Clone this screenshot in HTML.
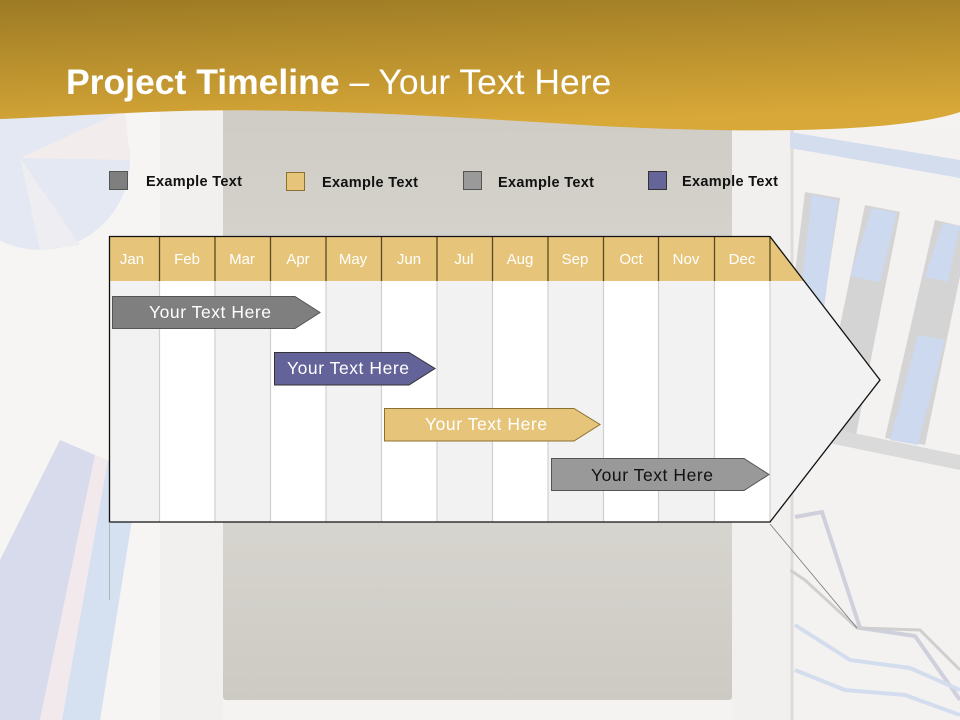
<!DOCTYPE html>
<html><head><meta charset="utf-8"><style>
html,body{margin:0;padding:0;width:960px;height:720px;overflow:hidden;background:#f3f2ef}
svg{display:block}
text{font-family:"Liberation Sans",sans-serif}
</style></head><body>
<svg width="960" height="720" viewBox="0 0 960 720" xmlns="http://www.w3.org/2000/svg">
<defs>
<linearGradient id="gold" x1="0" y1="0" x2="0.2" y2="1">
<stop offset="0" stop-color="#9c7a24"/><stop offset="1" stop-color="#d8a838"/></linearGradient>
<linearGradient id="panel" x1="0" y1="0" x2="0" y2="1">
<stop offset="0" stop-color="#cfccc5"/><stop offset="0.55" stop-color="#dcdad5"/><stop offset="1" stop-color="#cdcac3"/></linearGradient>
</defs>
<rect width="960" height="720" fill="#f4f3f1"/>
<!-- left decor -->
<rect x="0" y="110" width="160" height="610" fill="#f6f5f3"/>
<circle cx="40" cy="160" r="90" fill="#e3e8f2"/>
<path d="M20 158 L40 250 L80 245 Z" fill="#eeedf2"/>
<path d="M20 158 L130 160 L125 110 Z" fill="#f3ecec"/>
<path d="M0 560 L60 440 L95 455 L40 720 L0 720Z" fill="#d8dbeb"/>
<path d="M40 720 L95 455 L108 460 L62 720Z" fill="#f1e9ec"/>
<path d="M62 720 L108 460 L140 470 L100 720Z" fill="#d5e0f1"/>
<!-- right decor -->
<rect x="790" y="130" width="170" height="590" fill="#f3f2f0"/>
<line x1="792" y1="130" x2="792" y2="720" stroke="#dddcda" stroke-width="3"/>
<path d="M790 132 L960 160 L960 178 L790 148Z" fill="#d3ddee"/>
<path d="M805 192 L840 198 L800 460 L772 455Z" fill="#d4d4d4"/>
<path d="M812 195 L838 200 L805 455 L782 452Z" fill="#cdd9ee"/>
<path d="M865 205 L900 212 L855 440 L818 432Z" fill="#d4d4d4"/>
<path d="M872 208 L897 213 L880 282 L850 276Z" fill="#cdd9ee"/>
<path d="M935 220 L970 228 L925 445 L885 438Z" fill="#d4d4d4"/>
<path d="M943 223 L960 226 L948 282 L925 277Z" fill="#cdd9ee"/>
<path d="M918 335 L945 340 L918 445 L890 440Z" fill="#cdd9ee"/>
<path d="M790 420 L960 455 L960 470 L790 435Z" fill="#dadada"/>
<polyline points="795,517 822,512 860,628 915,636 960,700" fill="none" stroke="#cfd0dc" stroke-width="4"/>
<polyline points="790,570 805,580 857,628 920,630 960,670" fill="none" stroke="#cfcfcf" stroke-width="3"/>
<polyline points="795,625 850,660 910,668 960,690" fill="none" stroke="#d3ddee" stroke-width="4"/>
<polyline points="795,670 845,690 905,695 960,715" fill="none" stroke="#d3ddee" stroke-width="4"/>
<!-- center panel -->
<rect x="223" y="100" width="509" height="600" rx="3" fill="url(#panel)"/>
<rect x="160" y="110" width="63" height="610" fill="#f1f0ee"/>
<rect x="732" y="110" width="58" height="610" fill="#f1f0ee"/>
<!-- header band -->
<path d="M0 0 H960 V112 C900 132 760 134 600 126 C450 117 300 106 150 112 C80 115 30 118 0 119 Z" fill="url(#gold)"/>
<text x="66" y="94" font-size="35.5" fill="#fff"><tspan font-weight="bold">Project Timeline</tspan> – Your Text Here</text>
<!-- legend -->
<rect x="109.5" y="171.5" width="18" height="18" fill="#7f7f7f" stroke="#555"/>
<text x="146" y="186" font-size="14.5" font-weight="bold" fill="#111" textLength="96">Example Text</text>
<rect x="286.5" y="172.5" width="18" height="18" fill="#e6c57a" stroke="#8c7030"/>
<text x="322" y="187" font-size="14.5" font-weight="bold" fill="#111" textLength="96">Example Text</text>
<rect x="463.5" y="171.5" width="18" height="18" fill="#9a9a9a" stroke="#555"/>
<text x="498" y="187" font-size="14.5" font-weight="bold" fill="#111" textLength="96">Example Text</text>
<rect x="648.5" y="171.5" width="18" height="18" fill="#65659a" stroke="#333"/>
<text x="682" y="186" font-size="14.5" font-weight="bold" fill="#111" textLength="96">Example Text</text>
<!-- timeline body -->
<polygon points="109,236 770,236 880,380 770,522 109,522" fill="#f2f2f2"/>
<g fill="#ffffff">
<rect x="160" y="281" width="55" height="241"/>
<rect x="271" y="281" width="55" height="241"/>
<rect x="382" y="281" width="55" height="241"/>
<rect x="493" y="281" width="55" height="241"/>
<rect x="604" y="281" width="54" height="241"/>
<rect x="715" y="281" width="55" height="241"/>
</g>
<polygon points="109,236 770,236 804,281 109,281" fill="#e6c57a"/>
<g stroke="#d0d0d0" stroke-width="1.2">
<line x1="159.5" y1="281" x2="159.5" y2="522"/><line x1="215" y1="281" x2="215" y2="522"/>
<line x1="270.5" y1="281" x2="270.5" y2="522"/><line x1="326" y1="281" x2="326" y2="522"/>
<line x1="381.5" y1="281" x2="381.5" y2="522"/><line x1="437" y1="281" x2="437" y2="522"/>
<line x1="492.5" y1="281" x2="492.5" y2="522"/><line x1="548" y1="281" x2="548" y2="522"/>
<line x1="603.5" y1="281" x2="603.5" y2="522"/><line x1="658.5" y1="281" x2="658.5" y2="522"/>
<line x1="714.5" y1="281" x2="714.5" y2="522"/><line x1="770" y1="281" x2="770" y2="522"/>
</g>
<g stroke="#5a4a20" stroke-width="1.3">
<line x1="159.5" y1="236" x2="159.5" y2="281"/><line x1="215" y1="236" x2="215" y2="281"/>
<line x1="270.5" y1="236" x2="270.5" y2="281"/><line x1="326" y1="236" x2="326" y2="281"/>
<line x1="381.5" y1="236" x2="381.5" y2="281"/><line x1="437" y1="236" x2="437" y2="281"/>
<line x1="492.5" y1="236" x2="492.5" y2="281"/><line x1="548" y1="236" x2="548" y2="281"/>
<line x1="603.5" y1="236" x2="603.5" y2="281"/><line x1="658.5" y1="236" x2="658.5" y2="281"/>
<line x1="714.5" y1="236" x2="714.5" y2="281"/><line x1="770" y1="236" x2="770" y2="281"/>
</g>
<polygon points="109.5,236.5 770,236.5 880,380 770,522 109.5,522" fill="none" stroke="#111" stroke-width="1.3"/>
<line x1="770" y1="524" x2="857" y2="628" stroke="#777" stroke-width="0.8"/>
<line x1="109.5" y1="522" x2="109.5" y2="600" stroke="#aaa" stroke-width="0.8"/>
<g font-size="15" fill="#fff" text-anchor="middle">
<text x="132" y="264">Jan</text><text x="187" y="264">Feb</text><text x="242" y="264">Mar</text>
<text x="298" y="264">Apr</text><text x="353" y="264">May</text><text x="409" y="264">Jun</text>
<text x="464" y="264">Jul</text><text x="520" y="264">Aug</text><text x="575" y="264">Sep</text>
<text x="631" y="264">Oct</text><text x="686" y="264">Nov</text><text x="742" y="264">Dec</text>
</g>
<!-- bars -->
<polygon points="112.5,296.5 295,296.5 320,312.5 295,328.5 112.5,328.5" fill="#7f7f7f" stroke="#555"/>
<text x="210" y="318" font-size="17.5" fill="#fff" text-anchor="middle" textLength="122">Your  Text Here</text>
<polygon points="274.5,352.5 409,352.5 435,368.5 409,385 274.5,385" fill="#63639a" stroke="#333"/>
<text x="348" y="374" font-size="17.5" fill="#fff" text-anchor="middle" textLength="122">Your  Text Here</text>
<polygon points="384.5,408.5 574,408.5 600,424.5 574,441 384.5,441" fill="#e6c57a" stroke="#8c7030"/>
<text x="486" y="430" font-size="17.5" fill="#fff" text-anchor="middle" textLength="122">Your  Text Here</text>
<polygon points="551.5,458.5 744,458.5 769,474.5 744,490.5 551.5,490.5" fill="#999999" stroke="#555"/>
<text x="652" y="481" font-size="17.5" fill="#111" text-anchor="middle" textLength="122">Your  Text Here</text>
</svg>
</body></html>
